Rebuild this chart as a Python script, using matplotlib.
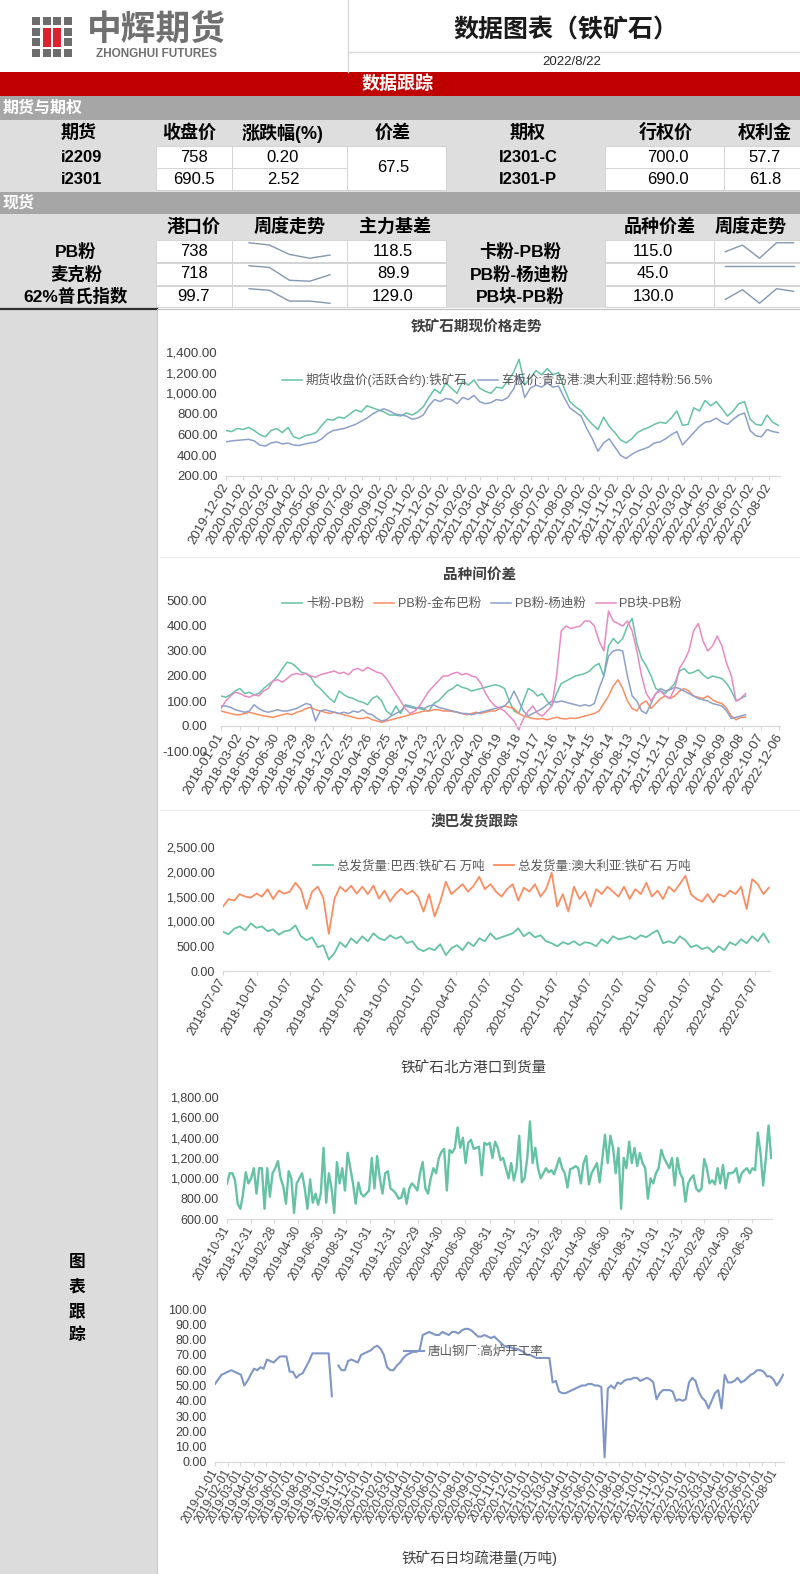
"""
铁矿石 数据图表 - 2022/8/22
"""

import numpy as np
import pandas as pd
import matplotlib
matplotlib.use("Agg")
import matplotlib.pyplot as plt
from matplotlib.patches import Rectangle
from matplotlib import font_manager

plt.rcParams["font.family"] = ["Liberation Sans", "Noto Sans CJK SC", "DejaVu Sans"]

names = {f.name for f in font_manager.fontManager.ttflist}
NARROW = "Liberation Sans Narrow" if "Liberation Sans Narrow" in names else "Liberation Sans"
NUM_FS = 13 if NARROW == "Liberation Sans Narrow" else 12

# ---------------- table data ----------------
fut_head = ["期货", "收盘价", "涨跌幅(%)", "价差", "期权", "行权价", "权利金"]
fut_codes = ["i2209", "i2301"]
fut_close = ["758", "690.5"]
fut_chg = ["0.20", "2.52"]
fut_spread = "67.5"
opt_codes = ["I2301-C", "I2301-P"]
opt_strike = ["700.0", "690.0"]
opt_premium = ["57.7", "61.8"]

spot_head = ["港口价", "周度走势", "主力基差", "品种价差", "周度走势"]
spot_names = ["PB粉", "麦克粉", "62%普氏指数"]
spot_price = ["738", "718", "99.7"]
spot_basis = ["118.5", "89.9", "129.0"]
pair_names = ["卡粉-PB粉", "PB粉-杨迪粉", "PB块-PB粉"]
pair_spread = ["115.0", "45.0", "130.0"]

spot_trend = [[777, 770, 740, 728, 738],
              [746, 741, 701, 698, 718],
              [104.4, 103.9, 100.4, 100.4, 99.7]]
pair_trend = [[88, 108, 68, 115, 115],
              [45, 45, 45, 45, 45],
              [105, 135, 93, 138, 130]]

# ---------------- chart 1: 铁矿石期现价格走势 ----------------
c1_names = ["期货收盘价(活跃合约):铁矿石", "车板价:青岛港:澳大利亚:超特粉:56.5%"]
c1_fut = [640, 630, 660, 650, 670, 640, 600, 580, 640, 660, 620, 670,
          580, 560, 590, 600, 620, 690, 750, 740, 770, 760, 800, 840,
          820, 880, 860, 840, 820, 790, 790, 780, 810, 790, 820, 870,
          960, 1040, 1000, 1100, 1050, 1000, 1120, 1080, 1130, 1050, 1020, 1000,
          1060, 1050, 1120, 1200, 1330, 1080, 1150, 1220, 1180, 1240, 1180, 1200,
          1050, 920, 870, 830, 760, 700, 650, 770, 680, 620, 550, 520,
          560, 620, 650, 670, 700, 720, 710, 760, 830, 690, 700, 860,
          830, 930, 880, 920, 850, 780, 830, 900, 920, 750, 700, 690,
          790, 720, 690]
c1_spot = [530, 540, 545, 550, 555, 540, 500, 490, 520, 530, 510, 520,
           500, 495, 510, 520, 530, 560, 610, 640, 650, 660, 680, 700,
           730, 760, 800, 830, 850, 830, 800, 790, 780, 750, 760, 790,
           880, 940, 920, 950, 940, 900, 960, 940, 980, 920, 900, 910,
           940, 930, 960, 1040, 1180, 960, 1050, 1080, 1060, 1100, 1060, 1070,
           960, 860, 820, 780, 660, 560, 440, 520, 560, 480, 400, 370,
           410, 440, 460, 480, 520, 530, 560, 600, 630, 500, 560, 620,
           680, 720, 730, 760, 720, 700, 750, 790, 810, 640, 590, 580,
           650, 630, 620]
c1_ticks = pd.date_range("2019-12-02", "2022-08-02", freq=pd.DateOffset(months=1))

# ---------------- chart 2: 品种间价差 ----------------
c2_names = ["卡粉-PB粉", "PB粉-金布巴粉", "PB粉-杨迪粉", "PB块-PB粉"]
c2_ka = [120, 115, 125, 140, 150, 130, 135, 125, 130, 150, 165, 180, 200, 230, 255, 250, 235, 215, 210, 195, 165, 150, 130, 110,
         95, 140, 125, 115, 110, 100, 95, 85, 110, 120, 100, 60, 45, 80, 50, 85, 80, 75, 70, 65, 60, 90, 100, 120,
         140, 150, 165, 155, 150, 140, 145, 150, 155, 160, 165, 160, 150, 100, 60, 50, 100, 150, 140, 120, 130, 100, 80, 130,
         170, 180, 190, 200, 205, 210, 220, 240, 250, 200, 320, 350, 330, 350, 400, 430, 330, 270, 240, 200, 150, 140, 130, 150,
         170, 220, 230, 210, 215, 225, 205, 190, 200, 195, 190, 170, 140, 100, 110, 120]
c2_jbb = [60, 55, 50, 45, 45, 50, 55, 50, 45, 40, 38, 35, 40, 45, 50, 45, 55, 60, 70, 75, 65, 60, 55, 50,
          55, 50, 45, 40, 35, 30, 30, 35, 25, 20, 15, 20, 25, 30, 35, 40, 45, 50, 55, 60, 60, 65, 65, 60,
          60, 58, 55, 50, 45, 50, 55, 50, 55, 60, 60, 70, 80, 75, 70, 50, 40, 35, 30, 28, 30, 25, 30, 35,
          30, 28, 32, 30, 35, 40, 45, 50, 60, 90, 120, 160, 185, 150, 100, 70, 60, 90, 100, 70, 90, 110, 120, 110,
          120, 140, 150, 140, 120, 115, 110, 120, 105, 95, 90, 70, 40, 25, 35, 35]
c2_yd = [80, 80, 75, 65, 60, 55, 60, 85, 70, 60, 55, 60, 65, 60, 60, 65, 70, 80, 90, 85, 20, 60, 65, 60,
         55, 50, 55, 50, 60, 55, 65, 50, 45, 30, 20, 25, 40, 50, 60, 80, 75, 70, 75, 70, 80, 85, 75, 70,
         65, 60, 55, 50, 50, 45, 50, 55, 60, 65, 70, 75, 80, 100, 140, 100, 60, 40, 50, 60, 70, 85, 100, 95,
         100, 95, 90, 85, 80, 85, 80, 90, 150, 200, 280, 300, 305, 300, 200, 120, 100, 60, 50, 90, 130, 150, 140, 145,
         155, 150, 140, 130, 120, 110, 105, 100, 90, 85, 80, 60, 30, 35, 40, 45]
c2_kuai = [70, 100, 120, 135, 130, 120, 115, 125, 120, 140, 150, 180, 185, 175, 190, 205, 210, 205, 210, 200, 195, 205, 210, 215,
           220, 210, 215, 205, 225, 230, 220, 235, 225, 215, 210, 190, 160, 130, 100, 70, 50, 60, 80, 110, 140, 160, 180, 200,
           200, 210, 215, 205, 210, 200, 195, 170, 130, 100, 80, 70, 60, 40, 20, -15, 30, 60, 80, 50, 40, 60, 80, 200,
           380, 400, 390, 395, 400, 420, 420, 400, 340, 300, 460, 420, 410, 400, 420, 380, 300, 200, 130, 100, 130, 140, 120, 110,
           150, 230, 260, 300, 380, 410, 340, 300, 320, 360, 320, 250, 200, 100, 110, 130]
c2_ticks = pd.date_range("2018-01-01", "2022-12-06", freq="60D")

# ---------------- chart 3: 澳巴发货跟踪 ----------------
c3_names = ["总发货量:巴西:铁矿石 万吨", "总发货量:澳大利亚:铁矿石 万吨"]
c3_br = [790, 740, 850, 900, 820, 960, 870, 900, 800, 840, 730, 800,
         820, 920, 700, 620, 680, 480, 520, 230, 360, 580, 480, 660, 560, 700, 600, 760, 660, 620, 720, 650, 700, 560, 600, 450,
         400, 460, 420, 540, 320, 460, 520, 420, 580, 500, 660, 600, 760, 640, 680, 720, 760, 860, 700, 780, 680, 720, 600, 560,
         500, 580, 540, 600, 520, 580, 560, 500, 640, 560, 700, 640, 660, 700, 640, 720, 680, 760, 820, 560, 600, 560, 700, 620,
         480, 520, 440, 480, 380, 500, 420, 580, 520, 640, 560, 700, 600, 760, 580]
c3_au = [1300, 1450, 1420, 1550, 1500, 1480, 1560, 1500, 1650, 1450, 1620, 1560,
         1600, 1780, 1640, 1250, 1600, 1700, 1480, 750, 1450, 1700, 1600, 1720, 1560, 1700, 1550, 1720, 1460, 1620, 1400, 1560, 1660, 1550, 1620, 1500,
         1200, 1550, 1100, 1400, 1800, 1550, 1650, 1750, 1600, 1720, 1900, 1650, 1750, 1600, 1500, 1650, 1750, 1420, 1680, 1600, 1750, 1500, 1650, 1980,
         1300, 1550, 1200, 1700, 1450, 1600, 1300, 1650, 1550, 1700, 1600, 1500, 1700, 1450, 1650, 1550, 1780, 1500, 1620, 1450, 1700, 1600, 1750, 1920,
         1550, 1450, 1400, 1550, 1380, 1550, 1500, 1620, 1550, 1700, 1250, 1850, 1750, 1550, 1680]
c3_ticks = pd.date_range("2018-07-07", "2022-07-07", freq=pd.DateOffset(months=3))

# ---------------- chart 4: 铁矿石北方港口到货量 ----------------
c4_arrive = [950, 1050, 1050, 980, 750, 700, 850, 1060, 950,
             1000, 1100, 850, 1100, 1100, 700, 1100, 820, 1050,
             1100, 1170, 1000, 920, 750, 1070, 1000, 660, 950,
             1000, 1050, 900, 700, 990, 760, 850, 740, 850,
             1300, 760, 1050, 900, 660, 1160, 950, 1100, 880,
             1250, 1100, 950, 750, 960, 850, 820, 850, 880,
             1200, 900, 1220, 1000, 850, 1050, 1070, 900, 880,
             850, 800, 810, 900, 750, 900, 950, 920, 880,
             1050, 1160, 900, 850, 1000, 1100, 1050, 1200, 1260,
             1290, 880, 1280, 1250, 1300, 1500, 1300, 1400, 1150,
             1350, 1380, 1290, 1300, 1310, 1030, 1350, 1330, 1350,
             1200, 1360, 1300, 1180, 1200, 1100, 1000, 1150, 980,
             1100, 1420, 960, 1000, 1200, 1560, 1150, 1300, 1100,
             1000, 1050, 1100, 1060, 1080, 1040, 1120, 1200, 1100,
             1050, 910, 1090, 1100, 1120, 1100, 950, 1150, 1220,
             940, 1050, 1100, 1150, 960, 1200, 1430, 1150, 1420,
             1300, 1050, 1300, 700, 1200, 1100, 1360, 1150, 1300,
             1120, 1250, 1150, 1100, 800, 1000, 950, 1050, 1100,
             1280, 1200, 1150, 1100, 1200, 930, 1200, 1050, 1000,
             770, 950, 1000, 1030, 900, 870, 900, 1190, 1100,
             950, 980, 940, 1100, 950, 1130, 900, 1050, 1050,
             1060, 1100, 960, 1050, 1080, 1100, 1050, 1100, 1080,
             1450, 1250, 930, 1200, 1520, 1200]
c4_ticks = pd.date_range("2018-10-31", "2022-06-30", freq="2ME")

# ---------------- chart 5: 唐山钢厂:高炉开工率 ----------------
c5_name = "唐山钢厂:高炉开工率"
nan = np.nan
c5_rate = [51, 54, 57, 58, 59, 60, 59, 58, 57, 50, 53, 57, 61, 60, 62, 61, 67, 66, 65, 67, 69, 69, 69, 59,
           59, 55, 57, 58, 62, 66, 71, 71, 71, 71, 71, 71, 43, nan, 63, 60, 60, 66, 67, 66, 65, 70, 71, 72,
           73, 75, 76, 74, 70, 62, 60, 60, 63, 65, 68, 70, 71, 72, 72, 73, 83, 84, 85, 84, 83, 83, 85, 84,
           83, 85, 85, 84, 86, 87, 87, 86, 84, 82, 82, 83, 82, 81, 82, 80, 78, 76, 75, 75, 74, 74, 73, 72,
           70, 70, 69, 68, 68, 68, 68, 68, 52, 53, 46, 45, 45, 46, 47, 48, 49, 50, 50, 51, 51, 50, 50, 49,
           3, 48, 50, 48, 52, 51, 53, 54, 54, 55, 55, 53, 54, 55, 54, 52, 41, 45, 47, 47, 47, 46, 40, 41,
           40, 41, 52, 55, 53, 46, 42, 40, 35, 40, 45, 47, 35, 57, 52, 52, 53, 55, 52, 53, 55, 57, 58, 60,
           60, 59, 56, 56, 54, 50, 53, 57]
c5_ticks = pd.date_range("2019-01-01", "2022-08-01", freq="MS")

GREEN, PURPLE, ORANGE, PINK = "#66c2a5", "#8da0cb", "#fc8d62", "#e78ac3"
TICK_C = "#404040"
AX_C = "#d9d9d9"

W, H = 800, 1574
fig = plt.figure(figsize=(W / 100, H / 100), dpi=100, facecolor="white")

bg = fig.add_axes([0, 0, 1, 1])
bg.set_xlim(0, W)
bg.set_ylim(H, 0)
bg.axis("off")


def px_axes(x0, y0, x1, y1):
    return fig.add_axes([x0 / W, 1 - y1 / H, (x1 - x0) / W, (y1 - y0) / H])


def rect(x0, y0, x1, y1, fc, ec="none", lw=0):
    bg.add_patch(Rectangle((x0, y0), x1 - x0, y1 - y0, facecolor=fc, edgecolor=ec, linewidth=lw))


def txt(x, y, s, size, color="black", weight="normal", ha="center", family=None):
    kw = {}
    if family:
        kw["family"] = family
    bg.text(x, y, s, fontsize=size, color=color, fontweight=weight, ha=ha, va="center", **kw)


# ---------------- header ----------------
bg.plot([348, 348], [0, 72], color="#d9d9d9", lw=1)
bg.plot([348, 800], [52, 52], color="#d9d9d9", lw=1)
# logo squares
for i in range(4):
    for j in range(4):
        x0 = 32 + i * 10.5
        y0 = 17 + j * 10.5
        if i in (1, 2) and j in (1, 2):
            continue
        rect(x0, y0, x0 + 8, y0 + 8, "#6d6d6d")
rect(42.5, 27.5, 50.5, 46.5, "#d9232d")
rect(53, 27.5, 61, 46.5, "#d9232d")
txt(156, 30, "中辉期货", 25, color="#707070", weight="bold")
txt(157, 54, "ZHONGHUI FUTURES", 8.5, color="#707070", weight="bold", family=[NARROW, "DejaVu Sans"])
txt(566, 30, "数据图表（铁矿石）", 18, color="#1a1a1a", weight="bold")
txt(572, 62, "2022/8/22", 9.5, color="#262626", family=[NARROW, "DejaVu Sans"])

rect(0, 72, 800, 96, "#c00000")
txt(398, 84, "数据跟踪", 13, color="white", weight="bold")

# ---------------- futures / options table ----------------
rect(0, 96, 800, 120, "#a6a6a6")
txt(3, 108, "期货与期权", 11.5, color="white", weight="bold", ha="left")
rect(0, 120, 800, 192, "#dedede")
for (a, b) in [(156, 232), (232, 347), (605, 724), (724, 800)]:
    for (t, u) in [(146, 168), (168, 190)]:
        rect(a, t, b, u, "white", ec="#d0d0d0", lw=0.6)
rect(347, 146, 446, 190, "white", ec="#d0d0d0", lw=0.6)

head_x = [79, 189, 283, 393, 528, 666, 765]
for x, s in zip(head_x, fut_head):
    txt(x, 133, s, 13, weight="bold")
num_fam = [NARROW, "Noto Sans CJK SC"]
for k, y in enumerate([157, 179]):
    txt(82, y, fut_codes[k], NUM_FS, weight="bold", family=num_fam)
    txt(194, y, fut_close[k], NUM_FS, family=num_fam)
    txt(283, y, fut_chg[k], NUM_FS, family=num_fam)
    txt(528, y, opt_codes[k], NUM_FS, weight="bold", family=num_fam)
    txt(668, y, opt_strike[k], NUM_FS, family=num_fam)
    txt(765, y, opt_premium[k], NUM_FS, family=num_fam)
txt(393, 168, fut_spread, NUM_FS, family=num_fam)

# ---------------- spot table ----------------
rect(0, 192, 800, 214, "#a6a6a6")
txt(3, 203, "现货", 11.5, color="white", weight="bold", ha="left")
rect(0, 214, 800, 308, "#dedede")
rows = [(240, 262), (263, 285), (286, 307)]
for (t, u) in rows:
    for (a, b) in [(156, 232), (232, 347), (347, 446), (605, 714), (714, 800)]:
        rect(a, t, b, u, "white", ec="#d0d0d0", lw=0.6)

for x, s in zip([194, 290, 395, 660, 751], spot_head):
    txt(x, 227, s, 13, weight="bold")
for k, (t, u) in enumerate(rows):
    y = (t + u) / 2
    txt(76, y, spot_names[k], 12.5, weight="bold", family=num_fam)
    txt(194, y, spot_price[k], NUM_FS, family=num_fam)
    txt(393, y, spot_basis[k], NUM_FS, family=num_fam)
    txt(520, y, pair_names[k], 12.5, weight="bold", family=num_fam)
    txt(653, y, pair_spread[k], NUM_FS, family=num_fam)

    sp = px_axes(245, t + 2, 334, u - 3)
    sp.plot(range(5), spot_trend[k], color="#8497b0", lw=1)
    sp.axis("off")
    sp2 = px_axes(722, t + 2, 797, u - 3)
    sp2.plot(range(5), pair_trend[k], color="#8497b0", lw=1)
    if k == 1:
        sp2.set_ylim(0, 47)
    sp2.axis("off")

bg.plot([0, 157], [309, 309], color="#303030", lw=1.6)
bg.plot([157, 800], [309, 309], color="#bfbfbf", lw=0.8)

# ---------------- chart area frame ----------------
rect(0, 310, 157, H, "#dcdcdc")
bg.plot([157, 157], [310, H], color="#c8c8c8", lw=0.8)
for yy in [557, 810]:
    bg.plot([160, 800], [yy, yy], color="#ececec", lw=0.8)
for k, ch in enumerate("图表跟踪"):
    txt(77, 1262 + k * 24.5, ch, 12, weight="bold")


def style(ax, xlim, ylim, yticks, xticks, xfs=8, yfs=8.5, ypad=6, zero_axis=False):
    ax.set_xlim(pd.Timestamp(xlim[0]), pd.Timestamp(xlim[1]))
    ax.set_ylim(*ylim)
    ax.set_facecolor("none")
    for s in ["left", "right", "top"]:
        ax.spines[s].set_visible(False)
    if zero_axis:
        ax.spines["bottom"].set_position(("data", 0))
    ax.spines["bottom"].set_color(AX_C)
    ax.spines["bottom"].set_linewidth(0.9)
    ax.set_yticks(yticks)
    ax.set_yticklabels([f"{v:,.2f}" for v in yticks], fontsize=yfs, color=TICK_C)
    ax.tick_params(axis="y", length=0, pad=ypad)
    ax.set_xticks(xticks)
    ax.set_xticklabels([d.strftime("%Y-%m-%d") for d in xticks], rotation=60, ha="right",
                       va="center", rotation_mode="anchor", fontsize=xfs, color=TICK_C)
    ax.tick_params(axis="x", length=3, color=AX_C, pad=3)


def legend(ax, cx, cy, ncol, fs=8.5):
    ax.legend(loc="center", bbox_to_anchor=(cx, cy), ncol=ncol, frameon=False, fontsize=fs,
              handlelength=1.6, handletextpad=0.3, columnspacing=0.8, labelcolor="#595959")


# chart 1
txt(477, 327, "铁矿石期现价格走势", 10.5, color="#404040", weight="bold")
ax1 = px_axes(226, 352, 780, 476)
d1 = pd.date_range("2019-12-02", "2022-08-19", periods=len(c1_fut))
ax1.plot(d1, c1_fut, color=GREEN, lw=1.1, label=c1_names[0])
ax1.plot(d1, c1_spot, color=PURPLE, lw=1.1, label=c1_names[1])
style(ax1, ("2019-12-02", "2022-08-22"), (200, 1400), list(range(200, 1401, 200)), c1_ticks, xfs=9.5, yfs=9.5)
legend(ax1, 0.49, 0.774, 2, fs=9)

# chart 2
txt(480, 575, "品种间价差", 10.5, color="#404040", weight="bold")
ax2 = px_axes(221, 601, 780, 751)
d2 = pd.date_range("2018-01-01", "2022-08-19", periods=len(c2_ka))
for vals, col, nm in zip([c2_ka, c2_jbb, c2_yd, c2_kuai], [GREEN, ORANGE, PURPLE, PINK], c2_names):
    ax2.plot(d2, vals, color=col, lw=1.1, label=nm)
style(ax2, ("2018-01-01", "2022-12-08"), (-100, 500), list(range(-100, 501, 100)), c2_ticks,
      xfs=9.5, yfs=9.5, ypad=10, zero_axis=True)
legend(ax2, 0.467, 0.98, 4, fs=9)

# chart 3
txt(474, 822, "澳巴发货跟踪", 10.5, color="#404040", weight="bold")
ax3 = px_axes(223, 847, 770, 971)
d3 = pd.date_range("2018-07-07", "2022-08-13", periods=len(c3_br))
ax3.plot(d3, c3_br, color=GREEN, lw=1.3, label=c3_names[0])
ax3.plot(d3, c3_au, color=ORANGE, lw=1.3, label=c3_names[1])
style(ax3, ("2018-07-07", "2022-08-16"), (0, 2500), list(range(0, 2501, 500)), c3_ticks, xfs=9, yfs=9)
legend(ax3, 0.51, 0.847, 2, fs=9)

# chart 4
txt(474, 1069, "铁矿石北方港口到货量", 10.5, color="#404040")
ax4 = px_axes(227, 1097, 772, 1219)
d4 = pd.date_range("2018-10-31", "2022-08-19", periods=len(c4_arrive))
ax4.plot(d4, c4_arrive, color=GREEN, lw=1.7)
style(ax4, ("2018-10-31", "2022-08-21"), (600, 1800), list(range(600, 1801, 200)), c4_ticks, xfs=8.5, yfs=9)

# chart 5
ax5 = px_axes(215, 1309, 784, 1462)
d5 = pd.date_range("2019-01-01", "2022-08-19", periods=len(c5_rate))
ax5.plot(d5, c5_rate, color="#7f96c6", lw=1.5, label=c5_name)
style(ax5, ("2019-01-01", "2022-08-21"), (0, 100), list(range(0, 101, 10)), c5_ticks, xfs=8.5, yfs=9)
legend(ax5, 0.455, 0.72, 1, fs=9)
txt(480, 1558, "铁矿石日均疏港量(万吨)", 10.5, color="#404040")

fig.savefig("out.png", dpi=100, facecolor="white")
print("Saved out.png")
